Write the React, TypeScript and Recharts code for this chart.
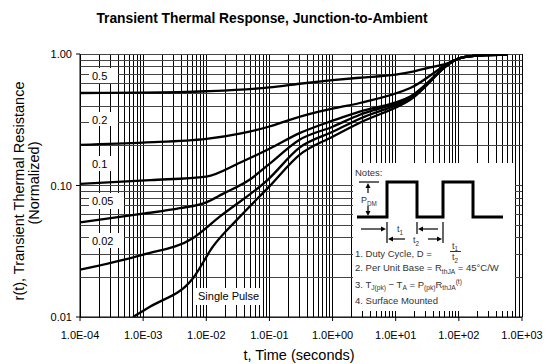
import { LineChart, Line, XAxis, YAxis, CartesianGrid, Customized } from "recharts";

// axis ticks
const decadesX = [1e-4, 1e-3, 1e-2, 1e-1, 1, 10, 100, 1000];
const xTickLabels = ["1.0E-04", "1.0E-03", "1.0E-02", "1.0E-01", "1.0E+00", "1.0E+01", "1.0E+02", "1.0E+03"];
const decadesY = [0.01, 0.1, 1];
const yTickLabels = ["0.01", "0.10", "1.00"];
const minorSteps = [2, 3, 4, 5, 6, 7, 8, 9];

// duty cycle curves
const tD05 = [1e-4, 1e-3, 0.01, 0.1, 0.3, 1, 2.7, 10, 17, 35, 72, 104, 216, 600];
const rD05 = [0.505, 0.508, 0.521, 0.557, 0.594, 0.632, 0.66, 0.696, 0.727, 0.79, 0.86, 0.93, 0.976, 0.99];
const tD02 = [1e-4, 1e-3, 0.01, 0.034, 0.1, 0.21, 0.44, 1, 2.7, 17, 104, 216, 600];
const rD02 = [0.204, 0.212, 0.226, 0.248, 0.281, 0.316, 0.35, 0.384, 0.424, 0.551, 0.93, 0.976, 0.99];
const tD01 = [1e-4, 1.3e-3, 0.01, 0.034, 0.1, 0.3, 1, 2.7, 17, 104, 216, 600];
const rD01 = [0.103, 0.11, 0.117, 0.149, 0.19, 0.25, 0.311, 0.364, 0.476, 0.93, 0.976, 0.99];
const tD005 = [1e-4, 1e-3, 3.8e-3, 0.01, 0.018, 0.049, 0.1, 0.3, 1, 2.7, 17, 104, 216, 600];
const rD005 = [0.0524, 0.061, 0.0672, 0.0745, 0.086, 0.111, 0.146, 0.223, 0.28, 0.345, 0.469, 0.93, 0.976, 0.99];
const tD002 = [1e-4, 1e-3, 6.2e-3, 0.0165, 0.095, 0.3, 1, 2.7, 17, 104, 216, 600];
const rD002 = [0.0229, 0.0298, 0.0399, 0.0582, 0.111, 0.194, 0.256, 0.322, 0.461, 0.93, 0.976, 0.99];
const tSP = [6.9e-4, 1.3e-3, 6.2e-3, 0.0128, 0.0307, 0.1, 0.3, 1, 2.7, 17, 104, 216, 600];
const rSP = [0.01, 0.012, 0.0198, 0.0344, 0.055, 0.0985, 0.171, 0.235, 0.3, 0.449, 0.93, 0.976, 0.99];

const curveLabels = ["0.5", "0.2", "0.1", "0.05", "0.02", "Single Pulse"];

const toPts = (t: number[], r: number[]) => t.map((v, i) => ({ t: v, r: r[i] }));
const series = [toPts(tD05, rD05), toPts(tD02, rD02), toPts(tD01, rD01), toPts(tD005, rD005), toPts(tD002, rD002), toPts(tSP, rSP)];

const withMinor = (dec: number[]) =>
  dec.flatMap((d, i) => (i === dec.length - 1 ? [d] : [d, ...minorSteps.map((m) => m * d)]));
const xGrid = withMinor(decadesX);
const yGrid = withMinor(decadesY);

const FONT = "'Liberation Sans', Arial, Helvetica, sans-serif";
const near = (a: number, b: number) => Math.abs(a / b - 1) < 1e-6;

function XTick(props: any) {
  const { x, y, payload } = props;
  const i = decadesX.findIndex((d) => near(payload.value, d));
  if (i < 0) return <g />;
  return (
    <g>
      <line x1={x} y1={y} x2={x} y2={y + 4} stroke="#000" />
      <text x={x} y={y + 22} textAnchor="middle" fontSize={11} fontFamily={FONT} fill="#000">{xTickLabels[i]}</text>
    </g>
  );
}

function YTick(props: any) {
  const { x, y, payload } = props;
  const i = decadesY.findIndex((d) => near(payload.value, d));
  if (i < 0) return <g />;
  return (
    <g>
      <line x1={x - 4} y1={y} x2={x} y2={y} stroke="#000" />
      <text x={x - 8} y={y + 4.2} textAnchor="end" fontSize={11} fontFamily={FONT} fill="#000">{yTickLabels[i]}</text>
    </g>
  );
}

// label boxes on the left: [x, y, w, h, textX, baseline]
const labelBoxes = [
  [89, 68, 29, 15, 92, 79.5],
  [89, 112, 29, 14, 92, 123.5],
  [89, 156, 29, 15, 92, 167.5],
  [89, 193, 35, 16, 92, 205],
  [89, 233, 35, 15, 92, 245],
  [194, 288, 68, 17, 198, 300],
];

type Seg = [string, "sub" | "sup" | null];
function Rich({ x, y, segs, size }: { x: number; y: number; segs: Seg[]; size: number }) {
  let shift = 0;
  return (
    <text x={x} y={y} fontSize={size} fill="#333">
      {segs.map(([s, kind], i) => {
        const target = kind === "sub" ? 2.5 : kind === "sup" ? -3.5 : 0;
        const dy = target - shift;
        shift = target;
        return (
          <tspan key={i} dy={dy} fontSize={kind ? size * 0.7 : size}>{s}</tspan>
        );
      })}
    </text>
  );
}

function Overlay() {
  return (
    <g fontFamily={FONT}>
      <text x={262} y={22.5} textAnchor="middle" fontSize={13.8} fontWeight="bold" fill="#000">
        Transient Thermal Response, Junction-to-Ambient
      </text>
      <text transform="translate(24,191) rotate(-90)" textAnchor="middle" fontSize={14.5} fill="#000">
        r(t), Transient Thermal Resistance
      </text>
      <text transform="translate(39,183) rotate(-90)" textAnchor="middle" fontSize={14.5} fill="#000">
        (Normalized)
      </text>
      <text x={299} y={359.5} textAnchor="middle" fontSize={14.5} fill="#000">t, Time (seconds)</text>

      {labelBoxes.map((b, i) => (
        <g key={i}>
          <rect x={b[0]} y={b[1]} width={b[2]} height={b[3]} fill="#fff" />
          <text x={b[4]} y={b[5]} fontSize={11} fill="#000">{curveLabels[i]}</text>
        </g>
      ))}

      {/* notes inset */}
      <rect x={353} y={163} width={162} height={148} fill="#fff" />
      <text x={355} y={176} fontSize={9.5} fill="#333">Notes:</text>
      <path d="M357,217 H387 V182 H417 V217 H443 V182 H473 V217 H503" fill="none" stroke="#000" strokeWidth={3} />
      <g stroke="#000" strokeWidth={1.2} fill="#000">
        <line x1={359} y1={182} x2={379} y2={182} />
        <line x1={368} y1={186} x2={368} y2={193} />
        <path d="M368,183 l-2.5,5 h5 z" stroke="none" />
        <line x1={368} y1={206} x2={368} y2={212} />
        <path d="M368,216 l-2.5,-5 h5 z" stroke="none" />
        <line x1={387} y1={222} x2={387} y2={243} />
        <line x1={417} y1={222} x2={417} y2={234} />
        <line x1={443} y1={222} x2={443} y2={243} />
        <line x1={361} y1={229} x2={383} y2={229} />
        <path d="M386,229 l-5,-2.5 v5 z" stroke="none" />
        <line x1={421} y1={229} x2={438} y2={229} />
        <path d="M418,229 l5,-2.5 v5 z" stroke="none" />
        <line x1={391} y1={239} x2={405} y2={239} />
        <path d="M388,239 l5,-2.5 v5 z" stroke="none" />
        <line x1={428} y1={239} x2={439} y2={239} />
        <path d="M442,239 l-5,-2.5 v5 z" stroke="none" />
        <line x1={450} y1={251.5} x2={461} y2={251.5} strokeWidth={0.8} />
      </g>
      <Rich x={361} y={203} size={9} segs={[["P", null], ["DM", "sub"]]} />
      <Rich x={397} y={232} size={9} segs={[["t", null], ["1", "sub"]]} />
      <Rich x={413} y={243} size={9} segs={[["t", null], ["2", "sub"]]} />
      <Rich x={452} y={248.5} size={9} segs={[["t", null], ["1", "sub"]]} />
      <Rich x={452} y={260} size={9} segs={[["t", null], ["2", "sub"]]} />
      <Rich x={355} y={256.5} size={9.5} segs={[["1. Duty Cycle, D = ", null]]} />
      <Rich x={355} y={271} size={9.5} segs={[["2. Per Unit Base = R", null], ["thJA", "sub"], [" = 45°C/W", null]]} />
      <Rich
        x={355}
        y={287.5}
        size={9.5}
        segs={[["3. T", null], ["J(pk)", "sub"], [" − T", null], ["A", "sub"], [" = P", null], ["(pk)", "sub"], ["R", null], ["thJA", "sub"], ["(t)", "sup"]]}
      />
      <Rich x={355} y={304} size={9.5} segs={[["4. Surface Mounted", null]]} />
    </g>
  );
}

export default function App() {
  return (
    <div style={{ position: "absolute", left: 0, top: 0, width: 551, height: 364, background: "#fff" }}>
      <style>{`.recharts-cartesian-grid line { shape-rendering: crispEdges; }`}</style>
      <LineChart width={551} height={364} margin={{ top: 54, right: 29, bottom: 17, left: 0 }}>
        <CartesianGrid horizontal={false} stroke="#000" strokeWidth={1} />
        <CartesianGrid vertical={false} stroke="#444" strokeWidth={1} />
        <XAxis
          type="number"
          dataKey="t"
          scale="log"
          domain={[1e-4, 1e3]}
          allowDataOverflow
          ticks={xGrid}
          interval={0}
          tick={XTick}
          tickLine={false}
          tickSize={0}
          tickMargin={0}
          axisLine={{ stroke: "#000" }}
          height={30}
        />
        <YAxis
          type="number"
          scale="log"
          domain={[0.01, 1]}
          allowDataOverflow
          ticks={yGrid}
          interval={0}
          tick={YTick}
          tickLine={false}
          tickSize={0}
          tickMargin={0}
          axisLine={{ stroke: "#000" }}
          width={80}
        />
        <Customized component={Overlay} />
        {series.map((d, i) => (
          <Line
            key={i}
            data={d}
            dataKey="r"
            type="monotone"
            stroke="#000"
            strokeWidth={2.3}
            dot={false}
            activeDot={false}
            isAnimationActive={false}
          />
        ))}
      </LineChart>
    </div>
  );
}
